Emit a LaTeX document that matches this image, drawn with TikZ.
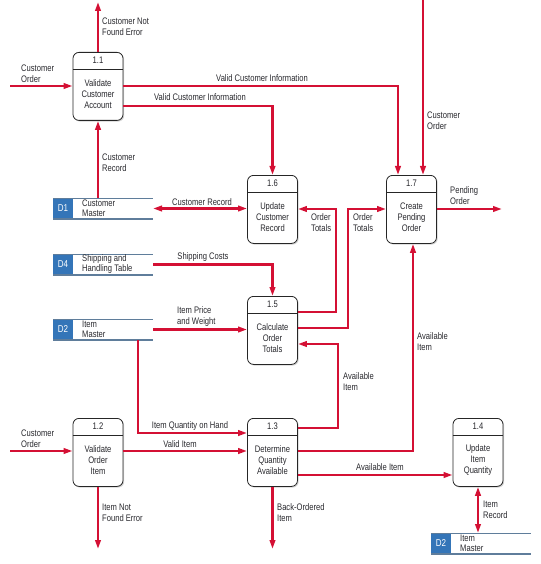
\documentclass[tikz,border=0pt]{standalone}
\usepackage{fontspec}
\setmainfont{Liberation Sans}[FakeStretch=0.8]
\usetikzlibrary{arrows.meta,shadows}

\definecolor{flowred}{RGB}{212,16,52}
\definecolor{storeblue}{RGB}{52,117,184}
\definecolor{storeline}{RGB}{95,125,155}
\definecolor{txt}{RGB}{40,40,45}

\tikzset{
  proc/.style={draw=black!85, line width=0.8pt, rounded corners=6pt,
    minimum width=50pt, minimum height=68pt, fill=white, inner sep=0pt,
    anchor=north,
    drop shadow={shadow xshift=1.2pt, shadow yshift=-1.2pt, opacity=0.35}},
  hdr/.style={draw=black!85, line width=0.6pt},
  flow/.style={draw=flowred, line width=2.2pt, -{Triangle[length=9pt,width=5.5pt]}},
  bflow/.style={draw=flowred, line width=2.2pt,
    {Triangle[length=9pt,width=5.5pt]}-{Triangle[length=9pt,width=5.5pt]}},
  lbl/.style={font=\fontsize{9.5}{11}\selectfont, text=txt, align=left, inner sep=0pt},
  clbl/.style={lbl, align=center},
  slbl/.style={font=\fontsize{9.5}{9.8}\selectfont, text=txt, align=left, inner sep=0pt},
  storebox/.style={minimum width=100pt, minimum height=21pt, inner sep=0pt, outer sep=0pt},
  storeid/.style={font=\fontsize{10}{11}\selectfont, text=white, inner sep=0pt},
}

\newcommand\dstore[5]{%
  \node[storebox, anchor=north west] (#1) at (#2,#3) {};
  \fill[storeblue] (#1.north west) rectangle ([xshift=20pt]#1.south west);
  \node[storeid] (#1id) at ([xshift=10pt]#1.west) {#4};
  \draw[storeline, line width=0.6pt] (#1.north west) -- (#1.north east);
  \draw[storeline, line width=1.5pt] (#1.south west) -- (#1.south east);
  \node[slbl, anchor=west] (#1txt) at ([xshift=29pt,yshift=0.5pt]#1.west) {#5};
}

\newcommand\dproc[5]{% name, x, ytop, number, text
  \node[proc] (#1) at (#2,#3) {};
  \draw[hdr] ([yshift=-17pt]#1.north west) -- ([yshift=-17pt]#1.north east);
  \node[clbl] (#1num) at ([yshift=-8.5pt]#1.north) {#4};
  \node[clbl] (#1txt) at ([yshift=-42.5pt]#1.north) {#5};
}

\begin{document}
\begin{tikzpicture}[x=1pt, y=-1pt]
\useasboundingbox (0,0) rectangle (540,564);

% processes
\dproc{p11}{98}{52}{1.1}{Validate\\Customer\\Account}
\dproc{p16}{272.5}{175}{1.6}{Update\\Customer\\Record}
\dproc{p17}{411.5}{175}{1.7}{Create\\Pending\\Order}
\dproc{p15}{272.5}{296}{1.5}{Calculate\\Order\\Totals}
\dproc{p12}{98}{418}{1.2}{Validate\\Order\\Item}
\dproc{p13}{272.5}{418}{1.3}{Determine\\Quantity\\Available}
\dproc{p14}{478}{418}{1.4}{Update\\Item\\Quantity}

% data stores
\dstore{d1}{53}{198}{D1}{Customer\\Master}
\dstore{d4}{53}{254}{D4}{Shipping and\\Handling Table}
\dstore{d2}{53}{319}{D2}{Item\\Master}
\dstore{d2b}{431}{533}{D2}{Item\\Master}

% free ends
\coordinate (in11) at (10,86);
\coordinate (out11) at (98,2);
\coordinate (in17) at (423,0);
\coordinate (out17) at (502,209);
\coordinate (in12) at (10,451);
\coordinate (out12) at (98,549);
\coordinate (out13) at (272.5,549);

% flows
\draw[flow] (in11) -- (p11.west |- 0,86);
\draw[flow] (p11.north) -- (out11);
\draw[flow] (d1.north -| 98,0) -- (p11.south);
\draw[flow] (p11.east |- 0,86) -| (p17.north -| 398,0);
\draw[flow] (p11.east |- 0,106) -| (p16.north);
\draw[flow] (in17) -- (p17.north -| 423,0);
\draw[flow] (p17.east |- 0,209) -- (out17);
\draw[bflow] (d1.east) -- (p16.west |- d1.east);
\draw[flow] (p15.east |- 0,312) -- (336,312) |- (p16.east |- 0,209);
\draw[flow] (p15.east |- 0,328) -- (348,328) |- (p17.west |- 0,209);
\draw[flow] (d4.east) -| (p15.north);
\draw[flow] (d2.east) -- (p15.west |- d2.east);
\draw[flow] (p13.east |- 0,428) -- (338,428) |- (p15.east |- 0,344);
\draw[flow] (p13.east |- 0,451) -| (p17.south -| 413,0);
\draw[flow] (p13.east |- 0,475) -- (p14.west |- 0,475);
\draw[flow] (d2.south -| 138,0) |- (p13.west |- 0,433);
\draw[flow] (in12) -- (p12.west |- 0,451);
\draw[flow] (p12.east |- 0,451) -- (p13.west |- 0,451);
\draw[flow] (p12.south) -- (out12);
\draw[flow] (p13.south) -- (out13);
\draw[bflow] (p14.south) -- (d2b.north -| p14.south);

% flow labels
\node[lbl, anchor=west] (l1) at (21,73.5) {Customer\\Order};
\node[lbl, anchor=west] (l2) at (102,26.5) {Customer Not\\Found Error};
\node[lbl, anchor=west] (l3) at (102,162.5) {Customer\\Record};
\node[clbl] (l4) at (262,78) {Valid Customer Information};
\node[clbl] (l5) at (200,97) {Valid Customer Information};
\node[lbl, anchor=west] (l6) at (427,120.5) {Customer\\Order};
\node[lbl, anchor=west] (l7) at (450,196) {Pending\\Order};
\node[clbl] (l8) at (202,202) {Customer Record};
\node[lbl, anchor=west] (l9) at (311,222.5) {Order\\Totals};
\node[lbl, anchor=west] (l10) at (353,222.5) {Order\\Totals};
\node[clbl] (l11) at (203,257) {Shipping Costs};
\node[lbl, anchor=west] (l12) at (177,316.5) {Item Price\\and Weight};
\node[lbl, anchor=west] (l13) at (343,381.5) {Available\\Item};
\node[lbl, anchor=west] (l14) at (417,341.5) {Available\\Item};
\node[clbl] (l15) at (380,467) {Available Item};
\node[clbl] (l16) at (190,426) {Item Quantity on Hand};
\node[lbl, anchor=west] (l17) at (21,438.5) {Customer\\Order};
\node[clbl] (l18) at (180,444) {Valid Item};
\node[lbl, anchor=west] (l19) at (102,512.5) {Item Not\\Found Error};
\node[lbl, anchor=west] (l20) at (277,512.5) {Back-Ordered\\Item};
\node[lbl, anchor=west] (l21) at (483,509.5) {Item\\Record};
\end{tikzpicture}
\end{document}
